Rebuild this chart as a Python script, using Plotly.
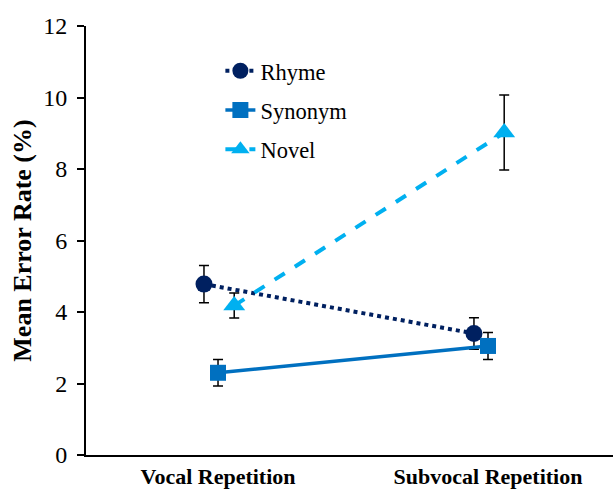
import plotly.graph_objects as go

# Conditions on the x axis
conditions = ["Vocal Repetition", "Subvocal Repetition"]
cond_pos = [0, 1]

# Mean error rates (%) and their error-bar half-widths
rhyme = [4.78, 3.40]
rhyme_err = [0.52, 0.44]
synonym = [2.30, 3.05]
synonym_err = [0.37, 0.38]
novel = [4.18, 9.02]
novel_err = [0.35, 1.05]

# Small horizontal offsets so the error bars do not overlap
offsets = {"Rhyme": -0.052, "Synonym": 0.0, "Novel": 0.06}

series = [
    ("Rhyme", rhyme, rhyme_err, "#002060", "dot", "circle", 4, 17),
    ("Synonym", synonym, synonym_err, "#0070C0", "solid", "square", 3.5, 16),
    ("Novel", novel, novel_err, "#00B0F0", "dash", "triangle-up", 4, 19),
]

fig = go.Figure()
for name, vals, errs, color, dash, symbol, width, msize in series:
    xs = [p + offsets[name] for p in cond_pos]
    fig.add_trace(go.Scatter(
        x=xs, y=vals, name=name, mode="lines+markers",
        legendgroup=name,
        line=dict(color=color, width=width, dash=dash),
        marker=dict(symbol=symbol, size=msize, color=color),
        error_y=dict(type="data", array=errs, visible=True,
                     color="black", thickness=1.5, width=5),
    ))

serif = "Liberation Serif"

fig.update_layout(
    width=613, height=492,
    margin=dict(l=86, r=0, t=26, b=37),
    paper_bgcolor="white", plot_bgcolor="white",
    font=dict(family=serif, size=22, color="black"),
    showlegend=True,
    legend=dict(
        x=0.255, y=0.945, xanchor="left", yanchor="top",
        bgcolor="rgba(0,0,0,0)", tracegroupgap=7,
        font=dict(family=serif, size=22.5, color="black"),
    ),
    xaxis=dict(
        range=[-0.489, 1.463], showgrid=False, zeroline=False,
        tickvals=cond_pos, ticktext=[f"<b>{c}</b>" for c in conditions],
        ticks="", showline=True, linecolor="black", linewidth=2,
        tickfont=dict(family=serif, size=22),
        ticklabelstandoff=1, automargin=False,
    ),
    yaxis=dict(
        range=[0, 12], dtick=2, showgrid=False, zeroline=False,
        showline=True, linecolor="black", linewidth=2,
        ticks="outside", ticklen=7, tickwidth=1.5, tickcolor="black",
        tickfont=dict(family=serif, size=24),
        ticklabelstandoff=5,
        title=dict(text="<b>Mean Error Rate (%)</b>",
                   font=dict(family=serif, size=26), standoff=4),
        automargin=False,
    ),
)

fig.write_html("out.html")
